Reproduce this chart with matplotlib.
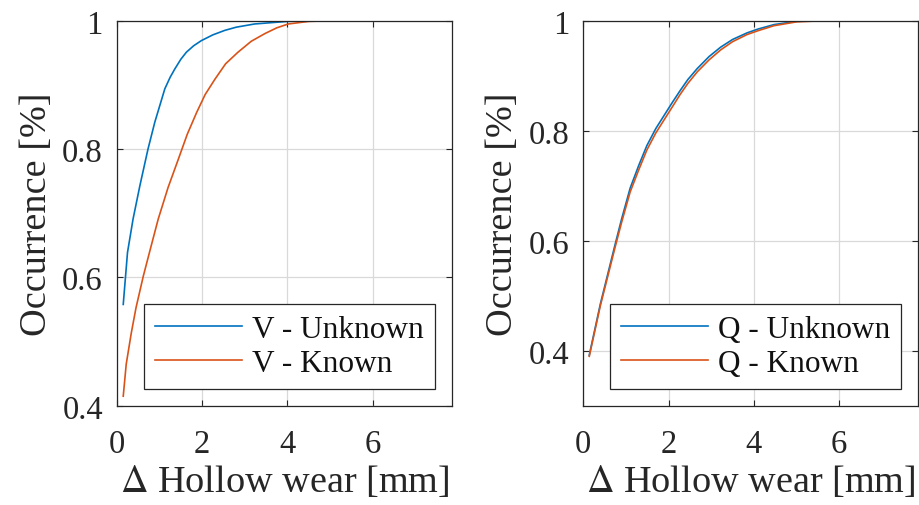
import numpy as np
import matplotlib.pyplot as plt

plt.rcParams['font.family'] = ['Liberation Serif', 'DejaVu Serif']
plt.rcParams['mathtext.fontset'] = 'stix'

# V: left panel
v_unknown_x = [0.15, 0.25, 0.38, 0.54, 0.73, 0.89, 1.125, 1.25, 1.36, 1.5, 1.63, 1.8, 1.98, 2.25, 2.53,
               2.8, 3.23, 4.0, 4.5, 5.5, 6.5, 7.9]
v_unknown_y = [0.558, 0.639, 0.691, 0.743, 0.80, 0.842, 0.894, 0.912, 0.925, 0.940, 0.951, 0.961, 0.969,
               0.978, 0.985, 0.990, 0.995, 0.999, 1.0, 1.0, 1.0, 1.0]
v_known_x = [0.15, 0.22, 0.34, 0.45, 0.62, 0.8, 0.97, 1.2, 1.44, 1.65, 1.87, 2.07, 2.3, 2.55, 2.84,
             3.15, 3.47, 3.75, 4.02, 4.5, 5.0, 6.0, 7.0, 7.9]
v_known_y = [0.415, 0.465, 0.514, 0.553, 0.602, 0.648, 0.691, 0.740, 0.784, 0.823, 0.857, 0.885, 0.909,
             0.933, 0.951, 0.968, 0.980, 0.989, 0.995, 0.999, 1.0, 1.0, 1.0, 1.0]

# Q: right panel
q_unknown_x = [0.14, 0.4, 0.745, 0.9, 1.10, 1.3, 1.49, 1.7, 1.92, 2.1, 2.27, 2.45, 2.67, 2.95, 3.22,
               3.5, 3.84, 4.1, 4.47, 5.0, 5.5, 6.5, 7.9]
q_unknown_y = [0.392, 0.485, 0.593, 0.640, 0.696, 0.737, 0.773, 0.804, 0.831, 0.853, 0.873, 0.893, 0.913,
               0.935, 0.952, 0.966, 0.978, 0.985, 0.993, 0.999, 1.0, 1.0, 1.0]
q_known_x = [0.14, 0.4, 0.745, 0.9, 1.10, 1.3, 1.49, 1.7, 1.92, 2.1, 2.27, 2.45, 2.67, 2.95, 3.22,
             3.5, 3.84, 4.1, 4.47, 5.0, 5.6, 6.5, 7.9]
q_known_y = [0.390, 0.482, 0.588, 0.634, 0.689, 0.729, 0.765, 0.796, 0.823, 0.845, 0.866, 0.886, 0.907,
             0.929, 0.947, 0.962, 0.975, 0.982, 0.991, 0.998, 1.0, 1.0, 1.0]

blue = '#0072BD'
orange = '#D95319'


def style_axes(ax, ylim, yticks):
    ax.set_xlim(0, 7.85)
    ax.set_ylim(*ylim)
    ax.set_xticks([0, 2, 4, 6])
    ax.set_yticks(yticks)
    ax.set_yticklabels(['0.4', '0.6', '0.8', '1'])
    ax.grid(True, color='#d9d9d9', linewidth=0.9)
    ax.set_axisbelow(True)
    ax.tick_params(direction='in', length=4, width=0.8, top=True, right=True,
                   labelsize=23.5, colors='#262626')
    ax.tick_params(axis='x', pad=16)
    ax.tick_params(axis='y', pad=10)
    for s in ax.spines.values():
        s.set_color('#262626')
        s.set_linewidth(0.9)
    ax.set_xlabel(r'$\Delta$ Hollow wear [mm]', fontsize=27.5, color='#262626', labelpad=3)
    ax.set_ylabel('Occurrence [%]', fontsize=27.5, color='#262626', labelpad=6)


fig = plt.figure(figsize=(9.2, 5.06), dpi=100)
ax1 = fig.add_axes([0.127, 0.196, 0.364, 0.761])
ax2 = fig.add_axes([0.634, 0.196, 0.364, 0.761])

ax1.plot(v_unknown_x, v_unknown_y, color=blue, lw=1.2, label='V - Unknown')
ax1.plot(v_known_x, v_known_y, color=orange, lw=1.2, label='V - Known')
style_axes(ax1, (0.4, 1.0), [0.4, 0.6, 0.8, 1.0])

ax2.plot(q_unknown_x, q_unknown_y, color=blue, lw=1.2, label='Q - Unknown')
ax2.plot(q_known_x, q_known_y, color=orange, lw=1.2, label='Q - Known')
style_axes(ax2, (0.3, 1.0), [0.4, 0.6, 0.8, 1.0])

for ax in (ax1, ax2):
    leg = ax.legend(loc='lower right', fontsize=22.5, fancybox=False, framealpha=1,
                    edgecolor='#262626', borderaxespad=0.55, handlelength=2.8,
                    labelspacing=0.15, borderpad=0.35, handletextpad=0.3)
    leg.get_frame().set_linewidth(0.9)
    for t in leg.get_texts():
        t.set_color('#111111')

fig.savefig('out.png', dpi=100)
